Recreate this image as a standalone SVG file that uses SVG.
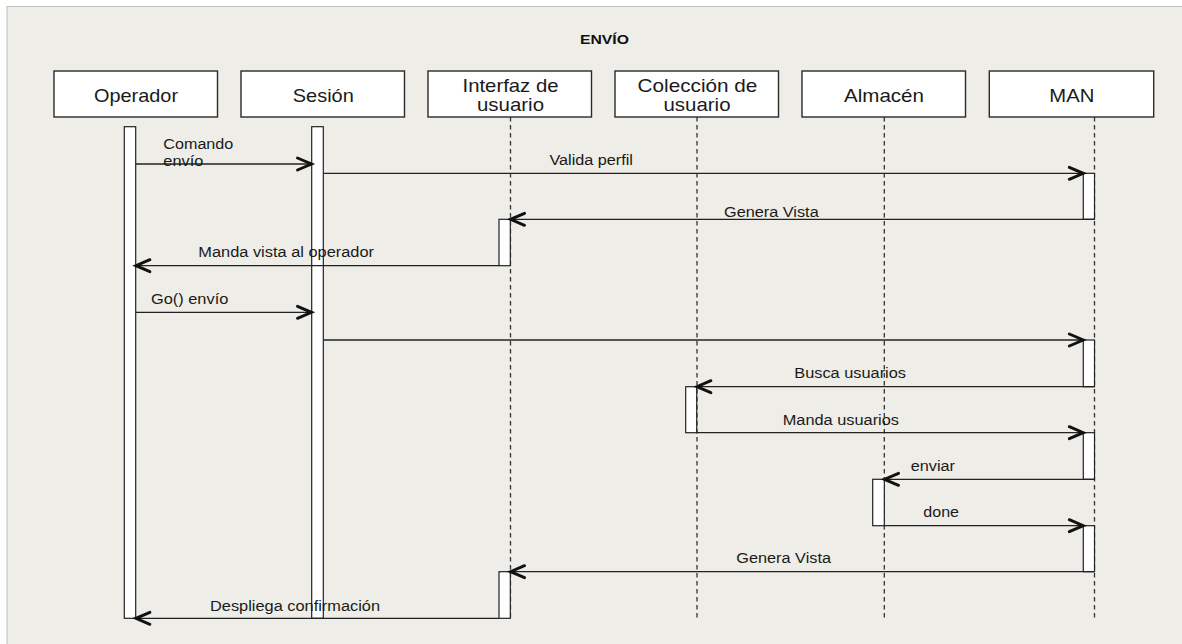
<svg xmlns="http://www.w3.org/2000/svg" width="1182" height="644" viewBox="0 0 1182 644">
  <defs>
    <marker id="open-arrow" markerUnits="userSpaceOnUse" markerWidth="22" markerHeight="22" viewBox="-18 -11 22 22" refX="0" refY="0" orient="auto">
      <path d="M-14,-6 L0,0 L-14,6" fill="none" stroke="#111111" stroke-width="2.9" stroke-linecap="round" stroke-linejoin="miter"/>
    </marker>
    <style>
      .head { fill: #ffffff; stroke: #2a2a2a; stroke-width: 1.4; }
      .head-label { font-family: "Liberation Sans", Arial, sans-serif; font-size: 18.5px; fill: #1a1a1a; }
      .title { font-family: "Liberation Sans", Arial, sans-serif; font-size: 13px; font-weight: bold; fill: #111111; }
      .lifeline { stroke: #333333; stroke-width: 1.3; stroke-dasharray: 4.5 3.5; fill: none; }
      .bar { fill: #ffffff; stroke: #222222; stroke-width: 1.2; }
      .msg { stroke: #222222; stroke-width: 1.3; fill: none; marker-end: url(#open-arrow); }
      .msg-label { font-family: "Liberation Sans", Arial, sans-serif; font-size: 14px; fill: #1a1a1a; }
    </style>
  </defs>

  <!-- page and frame -->
  <rect x="0" y="0" width="1182" height="644" fill="#ffffff"/>
  <rect x="7" y="6.5" width="1180" height="642" fill="#EEEDE7" stroke="#BEBEBE" stroke-width="1"/>

  <text class="title" x="580" y="44" textLength="49" lengthAdjust="spacingAndGlyphs">ENVÍO</text>

  <!-- lifelines -->
  <g id="lifelines">
    <line class="lifeline" x1="510.5" y1="117" x2="510.5" y2="618"/>
    <line class="lifeline" x1="697" y1="117" x2="697" y2="618"/>
    <line class="lifeline" x1="884.3" y1="117" x2="884.3" y2="618"/>
    <line class="lifeline" x1="1094.5" y1="117" x2="1094.5" y2="618"/>
  </g>

  <!-- participants -->
  <g id="operador">
    <rect class="head" x="54" y="71" width="163.5" height="46"/>
    <text class="head-label" x="94" y="102" textLength="84" lengthAdjust="spacingAndGlyphs">Operador</text>
    <rect class="bar" x="124.3" y="126.7" width="11.4" height="491.6"/>
  </g>
  <g id="sesion">
    <rect class="head" x="241" y="71" width="163.5" height="46"/>
    <text class="head-label" x="292.8" y="102" textLength="61" lengthAdjust="spacingAndGlyphs">Sesión</text>
    <rect class="bar" x="311.7" y="126.7" width="11.6" height="491.6"/>
  </g>
  <g id="interfaz-usuario">
    <rect class="head" x="428" y="71" width="163.5" height="46"/>
    <text class="head-label" x="462.5" y="92" textLength="96" lengthAdjust="spacingAndGlyphs">Interfaz de</text>
    <text class="head-label" x="477" y="111" textLength="67" lengthAdjust="spacingAndGlyphs">usuario</text>
    <rect class="bar" x="499" y="219.3" width="11.3" height="46.4"/>
    <rect class="bar" x="499" y="571.7" width="11.3" height="46.6"/>
  </g>
  <g id="coleccion-usuario">
    <rect class="head" x="615" y="71" width="163.5" height="46"/>
    <text class="head-label" x="637.6" y="92" textLength="119.7" lengthAdjust="spacingAndGlyphs">Colección de</text>
    <text class="head-label" x="663.5" y="111" textLength="67" lengthAdjust="spacingAndGlyphs">usuario</text>
    <rect class="bar" x="685.7" y="386.7" width="11" height="46"/>
  </g>
  <g id="almacen">
    <rect class="head" x="802" y="71" width="163.5" height="46"/>
    <text class="head-label" x="844" y="102" textLength="80" lengthAdjust="spacingAndGlyphs">Almacén</text>
    <rect class="bar" x="872.7" y="479.3" width="11.6" height="46.4"/>
  </g>
  <g id="man">
    <rect class="head" x="989.3" y="71" width="164.4" height="46"/>
    <text class="head-label" x="1049.3" y="102" textLength="45" lengthAdjust="spacingAndGlyphs">MAN</text>
    <rect class="bar" x="1083.3" y="173.3" width="11.2" height="46"/>
    <rect class="bar" x="1083.3" y="340" width="11.2" height="46.7"/>
    <rect class="bar" x="1083.3" y="432.7" width="11.2" height="46.6"/>
    <rect class="bar" x="1083.3" y="525.7" width="11.2" height="46"/>
  </g>

  <!-- messages -->
  <g id="connectors">
    <line class="msg" x1="135.7" y1="164" x2="311.5" y2="164"/>
    <line class="msg" x1="323.3" y1="173.3" x2="1083.3" y2="173.3"/>
    <line class="msg" x1="1094.5" y1="219.3" x2="510.5" y2="219.3"/>
    <line class="msg" x1="499" y1="265.7" x2="135.9" y2="265.7"/>
    <line class="msg" x1="135.7" y1="312.3" x2="311.5" y2="312.3"/>
    <line class="msg" x1="323.3" y1="340" x2="1083.3" y2="340"/>
    <line class="msg" x1="1094.5" y1="386.7" x2="696.9" y2="386.7"/>
    <line class="msg" x1="696.7" y1="432.7" x2="1083.3" y2="432.7"/>
    <line class="msg" x1="1094.5" y1="479.3" x2="884.5" y2="479.3"/>
    <line class="msg" x1="884.3" y1="525.7" x2="1083.3" y2="525.7"/>
    <line class="msg" x1="1094.5" y1="571.7" x2="510.5" y2="571.7"/>
    <line class="msg" x1="499" y1="618.3" x2="135.9" y2="618.3"/>
  </g>

  <!-- message labels -->
  <g id="message-labels">
    <text class="msg-label" x="163.3" y="149" textLength="70" lengthAdjust="spacingAndGlyphs">Comando</text>
    <text class="msg-label" x="163.3" y="165.5" textLength="40" lengthAdjust="spacingAndGlyphs">envío</text>
    <text class="msg-label" x="549.4" y="165" textLength="83.6" lengthAdjust="spacingAndGlyphs">Valida perfil</text>
    <text class="msg-label" x="724" y="216.7" textLength="94.7" lengthAdjust="spacingAndGlyphs">Genera Vista</text>
    <text class="msg-label" x="198.3" y="257.3" textLength="175.7" lengthAdjust="spacingAndGlyphs">Manda vista al operador</text>
    <text class="msg-label" x="151" y="304" textLength="77.3" lengthAdjust="spacingAndGlyphs">Go() envío</text>
    <text class="msg-label" x="794.3" y="378.3" textLength="111.7" lengthAdjust="spacingAndGlyphs">Busca usuarios</text>
    <text class="msg-label" x="782.7" y="425" textLength="116.3" lengthAdjust="spacingAndGlyphs">Manda usuarios</text>
    <text class="msg-label" x="910.7" y="471" textLength="44.3" lengthAdjust="spacingAndGlyphs">enviar</text>
    <text class="msg-label" x="923.3" y="516.7" textLength="35.7" lengthAdjust="spacingAndGlyphs">done</text>
    <text class="msg-label" x="736.3" y="563.3" textLength="94.7" lengthAdjust="spacingAndGlyphs">Genera Vista</text>
    <text class="msg-label" x="210" y="610.5" textLength="170" lengthAdjust="spacingAndGlyphs">Despliega confirmación</text>
  </g>
</svg>
